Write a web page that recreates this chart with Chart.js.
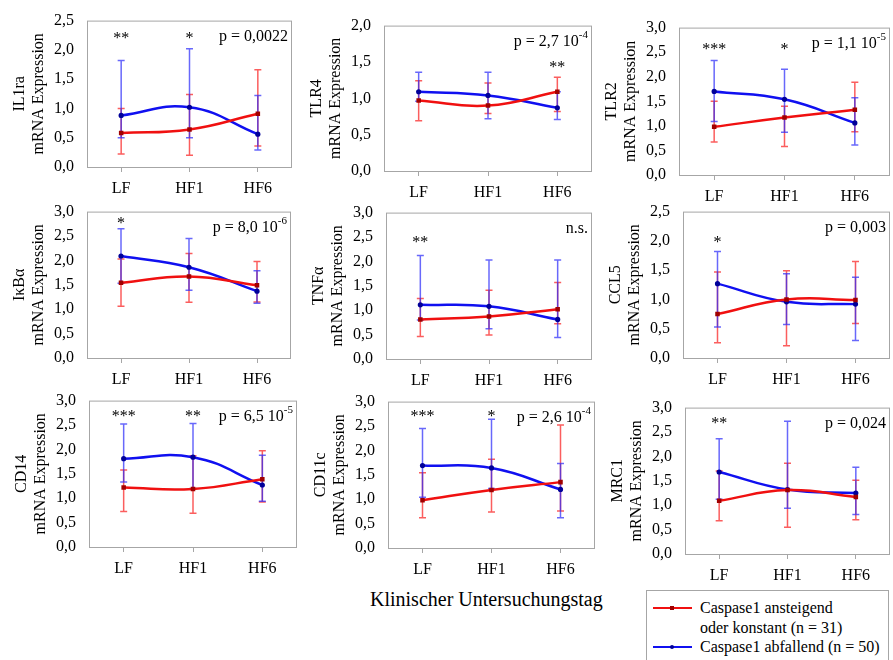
<!DOCTYPE html>
<html>
<head>
<meta charset="utf-8">
<script src="https://cdn.jsdelivr.net/npm/chart.js@4"></script>
<style>
  body { margin: 0; background: #fff; width: 893px; height: 660px; position: relative; overflow: hidden;
         font-family: 'Liberation Serif', 'Times New Roman', serif; }
  canvas { position: absolute; }
  #xtitle { position: absolute; left: 370px; top: 588px; font-size: 20px; white-space: nowrap; }
  #legend { position: absolute; left: 646px; top: 590px; width: 243px; height: 80px;
            border: 1px solid #a6a6a6; box-sizing: border-box; font-size: 16px; }
  .row { position: absolute; left: 53px; white-space: nowrap; line-height: 19px; }
  .swatch { position: absolute; left: 6px; width: 39px; height: 2px; }
  .mark { position: absolute; left: 17px; width: 4px; height: 4px; }
</style>
</head>
<body>

<div id="xtitle">Klinischer Untersuchungstag</div>
<div id="legend">
  <div class="swatch" style="top:16px;background:#f01010"><div class="mark" style="top:-1px;background:#a00000"></div></div>
  <div class="row" style="top:7px">Caspase1 ansteigend</div>
  <div class="row" style="top:27px">oder konstant (n = 31)</div>
  <div class="swatch" style="top:55px;background:#1010f0"><div class="mark" style="top:-1px;border-radius:2px;background:#000099"></div></div>
  <div class="row" style="top:46px">Caspase1 abfallend (n = 50)</div>
</div>

<script>
// Messzeitpunkte und Gene
const categories = ['LF', 'HF1', 'HF6'];
const genes = ['IL1ra', 'TLR4', 'TLR2', 'IκBα', 'TNFα', 'CCL5', 'CD14', 'CD11c', 'MRC1'];
const yMaxima = [2.5, 2.0, 3.0, 3.0, 3.0, 2.5, 3.0, 3.0, 3.0];

// Caspase1 ansteigend oder konstant (rot)
const redMean = [
  [0.58, 0.64, 0.91], [0.97, 0.90, 1.09], [0.98, 1.17, 1.33],
  [1.54, 1.67, 1.49], [0.81, 0.87, 1.02], [0.75, 1.00, 0.99],
  [1.22, 1.19, 1.39], [0.98, 1.19, 1.35], [1.09, 1.31, 1.17]
];
const redUpper = [
  [1.00, 1.24, 1.66], [1.24, 1.21, 1.29], [1.50, 1.40, 1.89],
  [2.03, 2.14, 1.98], [1.24, 1.41, 1.57], [1.47, 1.49, 1.65],
  [1.58, 1.87, 1.97], [1.54, 1.82, 2.52], [1.70, 1.86, 1.51]
];
const redLower = [
  [0.22, 0.20, 0.36], [0.69, 0.79, 0.82], [0.67, 0.58, 0.88],
  [1.06, 1.14, 1.15], [0.46, 0.49, 0.72], [0.26, 0.21, 0.59],
  [0.73, 0.69, 0.92], [0.62, 0.74, 0.76], [0.68, 0.55, 0.70]
];

// Caspase1 abfallend (blau)
const blueMean = [
  [0.88, 1.02, 0.56], [1.09, 1.04, 0.87], [1.70, 1.54, 1.06],
  [2.09, 1.86, 1.37], [1.11, 1.08, 0.81], [1.27, 0.96, 0.92],
  [1.81, 1.84, 1.27], [1.69, 1.64, 1.20], [1.68, 1.32, 1.25]
];
const blueUpper = [
  [1.82, 2.02, 1.22], [1.36, 1.36, 1.09], [2.33, 2.15, 1.57],
  [2.65, 2.45, 1.79], [2.12, 2.03, 2.03], [1.82, 1.44, 1.38],
  [2.52, 2.53, 1.88], [2.45, 2.64, 1.73], [2.36, 2.72, 1.78]
];
const blueLower = [
  [0.50, 0.50, 0.29], [0.96, 0.72, 0.71], [1.09, 0.87, 0.61],
  [1.53, 1.39, 1.12], [0.80, 0.62, 0.44], [0.53, 0.57, 0.30],
  [1.33, 1.20, 0.94], [1.04, 1.22, 0.62], [1.12, 0.94, 0.81]
];

// Signifikanzsterne je Zeitpunkt und p-Werte
const stars = [
  ['**', '*', ''], ['', '', '**'], ['***', '*', ''],
  ['*', '', ''], ['**', '', ''], ['*', '', ''],
  ['***', '**', ''], ['***', '*', ''], ['**', '', '']
];
const starLevel = [2.25, 1.47, 2.63, 2.83, 2.46, 2.03, 2.75, 2.78, 2.74];
const pText = ['p = 0,0022', 'p = 2,7 10', 'p = 1,1 10', 'p = 8,0 10', 'n.s.',
               'p = 0,003', 'p = 6,5 10', 'p = 2,6 10', 'p = 0,024'];
const pExp = ['', '-4', '-5', '-6', '', '', '-5', '-4', ''];

// Lage der Plotflächen [links, oben, rechts, unten]
const plotRects = [
  [87, 18, 292, 167], [384, 23, 592, 171], [679, 25, 890, 175],
  [87, 209, 291, 358], [386, 210, 592, 359], [683, 209, 890, 358],
  [89, 398, 297, 547], [388, 399, 595, 548], [685, 405, 890, 554]
];

const FONT = "'Liberation Serif', 'Times New Roman', serif";
const AXIS_W = 87, PAD_TOP = 12, PAD_RIGHT = 6, XAXIS_H = 34;

// Rahmen, Fehlerbalken und Beschriftungen
const panelPlugin = {
  id: 'panel',
  beforeDatasetsDraw(chart) {
    const ctx = chart.ctx;
    const a = chart.chartArea;
    ctx.save();
    ctx.strokeStyle = '#a6a6a6';
    ctx.lineWidth = 1;
    ctx.strokeRect(a.left + 0.5, a.top + 0.5, a.right - a.left - 1, a.bottom - a.top);

    const yScale = chart.scales.y;
    chart.data.datasets.forEach((ds, i) => {
      const meta = chart.getDatasetMeta(i);
      ctx.strokeStyle = ds.errColor;
      ctx.lineWidth = 1.5;
      meta.data.forEach((pt, j) => {
        const yu = yScale.getPixelForValue(ds.errUpper[j]);
        const yl = yScale.getPixelForValue(ds.errLower[j]);
        ctx.beginPath();
        ctx.moveTo(pt.x, yu); ctx.lineTo(pt.x, yl);
        ctx.moveTo(pt.x - 3.5, yu); ctx.lineTo(pt.x + 3.5, yu);
        ctx.moveTo(pt.x - 3.5, yl); ctx.lineTo(pt.x + 3.5, yl);
        ctx.stroke();
      });
    });
    ctx.restore();
  },
  afterDraw(chart) {
    const ctx = chart.ctx;
    const a = chart.chartArea;
    const k = chart.options.plugins.panel.index;
    ctx.save();
    ctx.fillStyle = '#000';
    ctx.font = '16px ' + FONT;
    ctx.textBaseline = 'middle';
    ctx.textAlign = 'center';
    const xScale = chart.scales.x, yScale = chart.scales.y;
    stars[k].forEach((s, j) => {
      if (s) ctx.fillText(s, xScale.getPixelForValue(j), yScale.getPixelForValue(starLevel[k]) + 4);
    });

    const py = a.top + 16;
    let right = a.right - 4;
    ctx.textAlign = 'right';
    if (pExp[k]) {
      ctx.font = '11px ' + FONT;
      ctx.fillText(pExp[k], right, py - 6);
      right -= ctx.measureText(pExp[k]).width;
      ctx.font = '16px ' + FONT;
    }
    ctx.fillText(pText[k], right, py);
    ctx.restore();
  }
};

function makePanel(k) {
  const [l, t, r, b] = plotRects[k];
  const canvas = document.createElement('canvas');
  const w = (r - l) + AXIS_W + PAD_RIGHT;
  const h = (b - t) + PAD_TOP + XAXIS_H;
  canvas.width = w; canvas.height = h;
  canvas.style.left = (l - AXIS_W) + 'px';
  canvas.style.top = (t - PAD_TOP) + 'px';
  canvas.style.width = w + 'px'; canvas.style.height = h + 'px';
  document.body.appendChild(canvas);

  new Chart(canvas, {
    type: 'line',
    data: {
      labels: categories,
      datasets: [
        {
          label: 'Caspase1 ansteigend oder konstant (n = 31)',
          data: redMean[k], errUpper: redUpper[k], errLower: redLower[k],
          errColor: 'rgba(250, 40, 40, 0.75)',
          borderColor: '#f01010', borderWidth: 2.5, tension: 0.45,
          pointStyle: 'rect', pointRadius: 3.2, pointBackgroundColor: '#a00000',
          pointBorderWidth: 0
        },
        {
          label: 'Caspase1 abfallend (n = 50)',
          data: blueMean[k], errUpper: blueUpper[k], errLower: blueLower[k],
          errColor: 'rgba(40, 40, 250, 0.7)',
          borderColor: '#1010f0', borderWidth: 2.5, tension: 0.45,
          pointStyle: 'circle', pointRadius: 2.6, pointBackgroundColor: '#000099',
          pointBorderWidth: 0
        }
      ]
    },
    options: {
      responsive: false,
      animation: false,
      devicePixelRatio: 1,
      layout: { padding: { left: 0, top: PAD_TOP, right: PAD_RIGHT, bottom: 0 } },
      plugins: {
        legend: { display: false },
        tooltip: { enabled: false },
        panel: { index: k }
      },
      scales: {
        x: {
          offset: true,
          border: { display: false },
          grid: { drawOnChartArea: false, offset: false, tickLength: 5, color: '#a6a6a6' },
          ticks: { color: '#000', padding: 7, font: { family: FONT, size: 16 } },
          afterFit(scale) { scale.height = XAXIS_H; }
        },
        y: {
          min: 0, max: yMaxima[k],
          border: { display: false },
          grid: { display: false },
          ticks: {
            stepSize: 0.5, color: '#000', padding: 5,
            font: { family: FONT, size: 16 },
            callback: v => v.toFixed(1).replace('.', ',')
          },
          title: {
            display: true, text: [genes[k], 'mRNA Expression'], color: '#000',
            padding: { top: 10, bottom: 0 },
            font: { family: FONT, size: 16, lineHeight: 1.2 }
          },
          afterFit(scale) { scale.width = AXIS_W; }
        }
      }
    },
    plugins: [panelPlugin]
  });
}

for (let k = 0; k < genes.length; k++) makePanel(k);
</script>
</body>
</html>
